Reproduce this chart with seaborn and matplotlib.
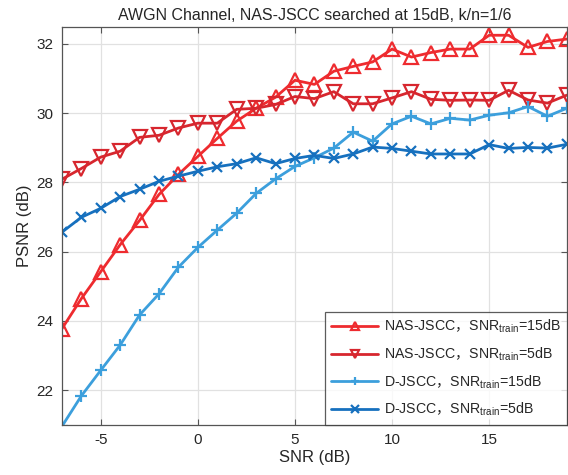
import numpy as np
import pandas as pd
import matplotlib
matplotlib.use("Agg")
import matplotlib.pyplot as plt
import seaborn as sns

snr = list(range(-7, 20))
nas_15 = [23.77, 24.64, 25.42, 26.2, 26.9, 27.65, 28.23, 28.75, 29.27, 29.77,
          30.14, 30.46, 30.95, 30.83, 31.21, 31.35, 31.48, 31.85, 31.62, 31.75,
          31.85, 31.85, 32.25, 32.25, 31.9, 32.07, 32.14]
nas_5 = [28.09, 28.4, 28.73, 28.9, 29.3, 29.36, 29.57, 29.71, 29.71, 30.11,
         30.14, 30.25, 30.48, 30.42, 30.62, 30.27, 30.27, 30.44, 30.62, 30.4,
         30.37, 30.38, 30.37, 30.66, 30.38, 30.29, 30.52]
djscc_15 = [20.95, 21.83, 22.57, 23.3, 24.17, 24.78, 25.55, 26.12, 26.62, 27.11,
            27.68, 28.1, 28.46, 28.71, 28.99, 29.45, 29.19, 29.69, 29.91, 29.69,
            29.85, 29.8, 29.94, 30.01, 30.19, 29.91, 30.14]
djscc_5 = [26.56, 26.99, 27.25, 27.59, 27.8, 28.03, 28.18, 28.32, 28.45, 28.54,
           28.71, 28.54, 28.69, 28.78, 28.69, 28.82, 29.02, 28.98, 28.9, 28.82,
           28.82, 28.82, 29.09, 28.98, 29.01, 28.99, 29.1]

labels = ["NAS-JSCC$\\mathbf{，}$SNR$_{\\mathrm{train}}$=15dB",
          "NAS-JSCC$\\mathbf{，}$SNR$_{\\mathrm{train}}$=5dB",
          "D-JSCC$\\mathbf{，}$SNR$_{\\mathrm{train}}$=15dB",
          "D-JSCC$\\mathbf{，}$SNR$_{\\mathrm{train}}$=5dB"]

sns.set_theme(style="whitegrid")
plt.rcParams['font.family'] = ['Liberation Sans', 'Noto Sans CJK SC', 'DejaVu Sans']
plt.rcParams['axes.unicode_minus'] = False
plt.rcParams['mathtext.fontset'] = 'custom'
plt.rcParams['mathtext.rm'] = 'Liberation Sans'
plt.rcParams['mathtext.it'] = 'Liberation Sans'
plt.rcParams['mathtext.sf'] = 'Liberation Sans'
plt.rcParams['mathtext.bf'] = 'Noto Sans CJK SC'

df = pd.DataFrame({
    "SNR": snr * 4,
    "PSNR": nas_15 + nas_5 + djscc_15 + djscc_5,
    "method": sum([[l] * len(snr) for l in labels], []),
})

colors = ["#EE2B2F", "#D7262E", "#3C9FDC", "#1670BE"]
markers = ["^", "v", "+", "x"]
msizes = [9.5, 9.5, 9, 7]

fig = plt.figure(figsize=(5.68, 4.75), dpi=100)
ax = fig.add_axes([0.109, 0.106, 0.889, 0.838])

for lab, c, m, ms in zip(labels, colors, markers, msizes):
    sub = df[df["method"] == lab]
    sns.lineplot(data=sub, x="SNR", y="PSNR", ax=ax, color=c, lw=2,
                 marker=m, markersize=ms, markerfacecolor="none",
                 markeredgecolor=c, markeredgewidth=1.6, label=lab)

ax.set_xlim(-7, 19)
ax.set_ylim(21, 32.5)
ax.set_xticks([-5, 0, 5, 10, 15])
ax.set_yticks([22, 24, 26, 28, 30, 32])
ax.grid(True, color="#E1E1E1", lw=0.9)
ax.set_facecolor("white")
for s in ax.spines.values():
    s.set_color("#555555")
    s.set_linewidth(0.9)
ax.tick_params(direction="in", length=4, colors="#262626", labelsize=11,
               width=0.8, top=True, right=True, bottom=True, left=True,
               labeltop=False, labelright=False, pad=6)
ax.tick_params(axis='both', which='major', color="#555555")
ax.set_xlabel("SNR (dB)", fontsize=12, color="#262626", labelpad=2)
ax.set_ylabel("PSNR (dB)", fontsize=12, color="#262626", labelpad=3)
ax.set_title("AWGN Channel, NAS-JSCC searched at 15dB, k/n=1/6", fontsize=11.5,
             color="#262626", pad=5)

leg = ax.legend(loc="lower right", frameon=True, fancybox=False,
                prop={'size': 10.2},
                borderaxespad=0.0, handlelength=3.3, labelspacing=0.72,
                borderpad=0.45, handletextpad=0.4)
leg.get_frame().set_edgecolor("#333333")
leg.get_frame().set_linewidth(0.9)
for h in leg.legend_handles:
    h.set_markersize(6)
for t in leg.get_texts():
    t.set_color("#262626")

fig.savefig("out.png", dpi=100)
